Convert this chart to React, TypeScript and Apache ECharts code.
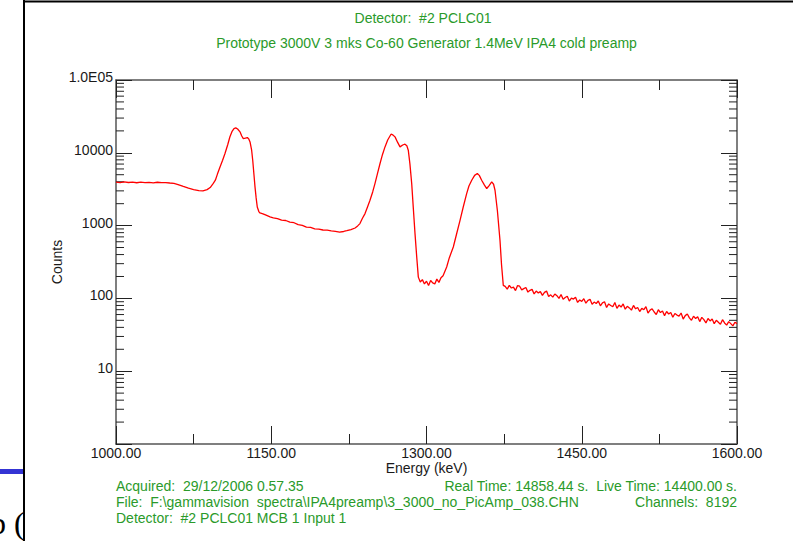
import React, { useEffect, useRef } from 'react';
import * as echarts from 'echarts';

const energies = [
  1000, 1004, 1008, 1012, 1016, 1020, 1024, 1028, 1032, 1036, 1040, 1044, 1048, 1052, 1056, 1060, 1065, 1070, 1075, 1080, 1084, 1088, 1091,
  1094, 1096, 1098, 1100.5, 1103, 1105.3, 1108, 1110, 1112, 1114, 1115.7, 1117.5, 1119.8, 1121.5, 1123, 1125, 1126.9, 1128.3, 1129.5, 1131,
  1132.1, 1133.3, 1134.3, 1135.4, 1136.5, 1138, 1139.1, 1142, 1145, 1148.8, 1152, 1156, 1160, 1164, 1168, 1172, 1176, 1180, 1184, 1188,
  1192, 1196, 1200, 1204, 1208, 1212, 1216, 1220, 1223, 1227, 1231, 1233.5, 1235.7, 1238, 1240.6, 1243, 1245.4, 1248, 1250.2, 1252.5,
  1255.1, 1257.5, 1259.9, 1262.5, 1265.7, 1267.5, 1269.6, 1272, 1274.4, 1277, 1279.2, 1281, 1282.4, 1284, 1285.7, 1287.3, 1288.9, 1290.5, 1292.1,
  1294, 1296, 1298, 1300, 1302, 1304, 1306, 1308, 1310, 1312, 1314, 1316, 1319.5, 1322, 1325.9, 1329, 1332.4, 1335.5, 1338.8, 1341, 1343.7,
  1346.5, 1349.1, 1351, 1353.3, 1356, 1358.2, 1360.5, 1363, 1364.8, 1366.2, 1368.5, 1371, 1372.5, 1374.2,
  1376, 1378, 1380, 1382, 1384, 1386, 1388, 1390, 1392, 1394, 1396, 1398, 1400, 1402, 1404, 1406, 1408, 1410, 1412, 1414,
  1416, 1418, 1420, 1422, 1424, 1426, 1428, 1430, 1432, 1434, 1436, 1438, 1440, 1442, 1444, 1446, 1448, 1450, 1452, 1454,
  1456, 1458, 1460, 1462, 1464, 1466, 1468, 1470, 1472, 1474, 1476, 1478, 1480, 1482, 1484, 1486, 1488, 1490, 1492, 1494,
  1496, 1498, 1500, 1502, 1504, 1506, 1508, 1510, 1512, 1514, 1516, 1518, 1520, 1522, 1524, 1526, 1528, 1530, 1532, 1534,
  1536, 1538, 1540, 1542, 1544, 1546, 1548, 1550, 1552, 1554, 1556, 1558, 1560, 1562, 1564, 1566, 1568, 1570, 1572, 1574,
  1576, 1578, 1580, 1582, 1584, 1586, 1588, 1590, 1592, 1594, 1596, 1598, 1600,
];

const counts = [
  3950, 3890, 3990, 3910, 3960, 3880, 3950, 3900, 3930, 3870, 3940, 3890, 3900, 3850, 3810, 3660, 3450, 3260, 3120, 3020, 2990, 3120, 3330,
  3800, 4200, 5100, 6400, 7900, 9780, 13000, 16500, 19500, 21500, 22000, 21200, 19400, 17000, 15700, 15900, 16200, 15500, 14100, 11000,
  7900, 5000, 3400, 2400, 1800, 1560, 1490, 1450, 1395, 1320, 1280, 1250, 1190, 1175, 1115, 1095, 1030, 1005, 950, 945,
  900, 895, 870, 865, 845, 835, 815, 830, 850, 880, 927, 990, 1066, 1250, 1463, 1800, 2230, 2900, 3780, 5100,
  7130, 9500, 12050, 15000, 18000, 17600, 16550, 14000, 12050, 12800, 13130, 12500, 10860, 7000, 3780, 1700, 776, 380, 196,
  168, 181, 158, 172, 150, 176, 163, 158, 184, 166, 192, 205, 270, 360, 508, 760, 1183, 1800, 2754, 3500, 4200,
  4900, 5190, 4900, 4200, 3600, 3230, 3550, 3980, 3700, 3060, 1600, 628, 290, 151,
  146, 134, 151, 139, 143, 128, 150, 147, 131, 136, 141, 122, 129, 133, 115, 126, 119, 124, 110, 121,
  126, 106, 112, 104, 115, 109, 100, 113, 97, 103, 107, 92, 101, 98, 104, 88, 95, 91, 99, 86,
  94, 97, 83, 89, 85, 92, 79, 87, 90, 75, 84, 80, 77, 88, 73, 81, 76, 84, 71, 78,
  74, 69, 80, 72, 75, 66, 73, 70, 77, 63, 69, 72, 65, 60, 70, 64, 67, 58, 66, 61,
  64, 55, 62, 59, 57, 63, 52, 58, 61, 54, 50, 57, 53, 56, 48, 55, 51, 46, 53, 49,
  52, 45, 50, 47, 44, 51, 46, 43, 48, 45, 42, 47, 45,
];

const xMin = 1000;
const xMax = 1600;
const xInterval = 150;
const yMin = 1;
const yMax = 100000;
const decades = [1, 10, 100, 1000, 10000];
const minorMultipliers = [2, 3, 4, 5, 6, 7, 8, 9];

const titleLines = [
  'Detector:  #2 PCLC01',
  'Prototype 3000V 3 mks Co-60 Generator 1.4MeV IPA4 cold preamp',
];
const footerLeft = [
  'Acquired:  29/12/2006 0.57.35',
  'File:  F:\\gammavision  spectra\\IPA4preamp\\3_3000_no_PicAmp_038.CHN',
  'Detector:  #2 PCLC01 MCB 1 Input 1',
];
const footerRight = [
  'Real Time: 14858.44 s.  Live Time: 14400.00 s.',
  'Channels:  8192',
];

const GREEN = '#2a9a2a';
const FONT = '"Liberation Sans", Arial, sans-serif';

export default function App() {
  const ref = useRef<HTMLDivElement>(null);

  useEffect(() => {
    const chart = echarts.init(ref.current!, null, { renderer: 'svg' });
    const minorVals: number[] = [];
    decades.forEach((d) => minorMultipliers.forEach((m) => minorVals.push(d * m)));

    const axisLineStyle = { color: '#555', width: 1.5 };
    const tickStyle = { color: '#222', width: 1 };

    const textEl = (text: string, x: number, y: number, align: string, color: string, font: string) => ({
      type: 'text',
      x,
      y,
      silent: true,
      style: {
        text,
        font,
        fill: color,
        textAlign: align,
        align,
        textVerticalAlign: 'middle',
        verticalAlign: 'middle',
      },
    });

    const option: any = {
      animation: false,
      backgroundColor: '#fff',
      grid: { left: 116, right: 56, top: 80, bottom: 97, containLabel: false },
      xAxis: [
        {
          type: 'value',
          min: xMin,
          max: xMax,
          interval: xInterval,
          position: 'bottom',
          name: 'Energy (keV)',
          nameLocation: 'middle',
          nameGap: 17,
          nameMoveOverlap: false,
          nameTextStyle: { fontFamily: FONT, fontSize: 14, color: '#1a1a1a' },
          axisLine: { show: true, lineStyle: axisLineStyle },
          axisTick: { show: true, inside: true, length: 18, lineStyle: tickStyle },
          minorTick: { show: true, splitNumber: 2, length: 10, lineStyle: tickStyle },
          axisLabel: {
            formatter: (v: number) => v.toFixed(2),
            fontFamily: FONT,
            fontSize: 14,
            color: '#1a1a1a',
            margin: 2,
          },
          splitLine: { show: false },
          minorSplitLine: { show: false },
        },
        {
          type: 'value',
          min: xMin,
          max: xMax,
          interval: xInterval,
          position: 'top',
          axisLine: { show: true, lineStyle: axisLineStyle },
          axisTick: { show: true, inside: true, length: 18, lineStyle: tickStyle },
          minorTick: { show: true, splitNumber: 2, length: 10, lineStyle: tickStyle },
          axisLabel: { show: false },
          splitLine: { show: false },
        },
      ],
      yAxis: [
        {
          type: 'log',
          logBase: 10,
          min: yMin,
          max: yMax,
          position: 'left',
          name: 'Counts',
          nameLocation: 'middle',
          nameGap: 52,
          nameMoveOverlap: false,
          nameTextStyle: { fontFamily: FONT, fontSize: 14, color: '#1a1a1a' },
          axisLine: { show: true, lineStyle: axisLineStyle },
          axisTick: { show: true, inside: true, length: 16, lineStyle: tickStyle },
          axisLabel: {
            formatter: (v: number) => {
              const r = Math.round(v);
              if (r >= 100000) return '1.0E05';
              if (r <= 1) return '';
              return String(r);
            },
            fontFamily: FONT,
            fontSize: 14,
            color: '#1a1a1a',
            margin: 3,
            verticalAlign: 'bottom',
            lineHeight: 6,
          },
          splitLine: { show: false },
        },
        {
          type: 'log',
          logBase: 10,
          min: yMin,
          max: yMax,
          position: 'right',
          axisLine: { show: true, lineStyle: axisLineStyle },
          axisTick: { show: true, inside: true, length: 16, lineStyle: tickStyle },
          axisLabel: { show: false },
          splitLine: { show: false },
        },
      ],
      series: [
        {
          type: 'custom',
          xAxisIndex: 0,
          yAxisIndex: 0,
          clip: false,
          silent: true,
          data: minorVals.map((v) => [xMin, v]),
          renderItem: (params: any, api: any) => {
            const v = api.value(1);
            const pL = api.coord([xMin, v]);
            const pR = api.coord([xMax, v]);
            return {
              type: 'group',
              children: [
                { type: 'line', shape: { x1: pL[0], y1: pL[1], x2: pL[0] + 8, y2: pL[1] }, style: { stroke: '#222', lineWidth: 1 } },
                { type: 'line', shape: { x1: pR[0] - 8, y1: pR[1], x2: pR[0], y2: pR[1] }, style: { stroke: '#222', lineWidth: 1 } },
              ],
            };
          },
        },
        {
          type: 'line',
          xAxisIndex: 0,
          yAxisIndex: 0,
          showSymbol: false,
          symbol: 'none',
          silent: true,
          data: energies.map((e, i) => [e, counts[i]]),
          lineStyle: { color: '#ff0000', width: 1.3 },
        },
      ],
      graphic: [
        { type: 'text', x: -10, y: 539, silent: true, style: { text: 'b (', font: '32px "Liberation Serif", serif', fill: '#000', textVerticalAlign: 'bottom', verticalAlign: 'bottom' } },
        { type: 'rect', shape: { x: 0, y: 469, width: 24, height: 5 }, style: { fill: '#3434d4' }, silent: true },
        { type: 'rect', shape: { x: 25, y: 2, width: 768, height: 539 }, style: { fill: '#fff' }, silent: true, z: -1 },
        { type: 'line', shape: { x1: 24, y1: 1.5, x2: 793, y2: 1.5 }, style: { stroke: '#000', lineWidth: 2 }, silent: true },
        { type: 'line', shape: { x1: 24, y1: 0, x2: 24, y2: 541 }, style: { stroke: '#000', lineWidth: 2 }, silent: true },
        textEl(titleLines[0], 423, 18, 'center', GREEN, '14px ' + FONT),
        textEl(titleLines[1], 426.5, 43, 'center', GREEN, '14px ' + FONT),
        textEl(footerLeft[0], 116, 486, 'left', GREEN, '14px ' + FONT),
        textEl(footerLeft[1], 116, 502, 'left', GREEN, '14px ' + FONT),
        textEl(footerLeft[2], 116, 518, 'left', GREEN, '14px ' + FONT),
        textEl(footerRight[0], 737, 486, 'right', GREEN, '14px ' + FONT),
        textEl(footerRight[1], 737, 502, 'right', GREEN, '14px ' + FONT),
      ],
    };

    chart.setOption(option);
    return () => chart.dispose();
  }, []);

  return (
    <div
      ref={ref}
      style={{ position: 'absolute', left: 0, top: 0, width: 793, height: 541, background: '#fff' }}
    />
  );
}
